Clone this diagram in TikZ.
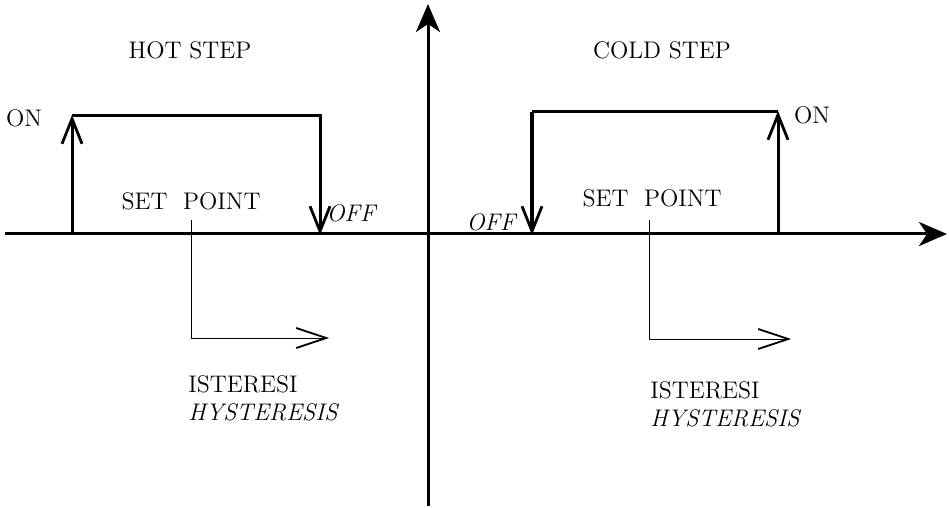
\documentclass[tikz,border=0pt]{standalone}
\usetikzlibrary{arrows.meta}

\begin{document}
\begin{tikzpicture}[line cap=butt,line join=miter,x=0.5pt,y=-0.5pt,
  axis/.style={line width=1.5pt,-{Stealth[length=14pt,width=12pt,inset=4pt]}},
  edge/.style={line width=1.5pt,-{Straight Barb[length=12.5pt,width=10pt,line width=1.4pt]}},
  hyst/.style={line width=0.5pt,-{Straight Barb[length=15pt,width=10pt,line width=0.9pt]}},
  lbl/.style={font=\large,inner sep=0pt}]
\useasboundingbox (0,0) rectangle (949,508);
% axes
\draw [axis] (5,234) -- (947,234);
\draw [axis] (428,506) -- (428,4);
% hot step
\draw [edge] (72,234) -- (72,115);
\draw [line width=1.5pt] (72,116) -- (320,116) -- (320,130);
\draw [edge] (320,116) -- (320,235);
\draw [line width=0.5pt] (191,220) -- (191,338);
\draw [hyst] (190.75,338) -- (329,338);
% cold step
\draw [line width=1.5pt] (532,112) -- (778,112);
\draw [edge,line width=2pt] (532,112) -- (532,235);
\draw [edge] (778,234) -- (778,111);
\draw [line width=0.5pt] (649,220) -- (649,339);
\draw [hyst] (648.75,339) -- (791,339);
% labels
\node [lbl] (hotstep) at (190,50) {HOT STEP};
\node [lbl] (coldstep) at (662,50) {COLD STEP};
\node [lbl] (hoton) at (24,118) {ON};
\node [lbl] (coldon) at (812,115) {ON};
\node [lbl] (hotoff) at (351,213) {\itshape OFF};
\node [lbl] (coldoff) at (491,222) {\itshape OFF};
\node [lbl] (hotsp) at (191,201) {SET\ \ POINT};
\node [lbl] (coldsp) at (652,198) {SET\ \ POINT};
\node [lbl,anchor=west,align=left] (hotist) at (188,398) {ISTERESI\\\itshape HYSTERESIS};
\node [lbl,anchor=west,align=left] (coldist) at (650,404) {ISTERESI\\\itshape HYSTERESIS};
\end{tikzpicture}
\end{document}
